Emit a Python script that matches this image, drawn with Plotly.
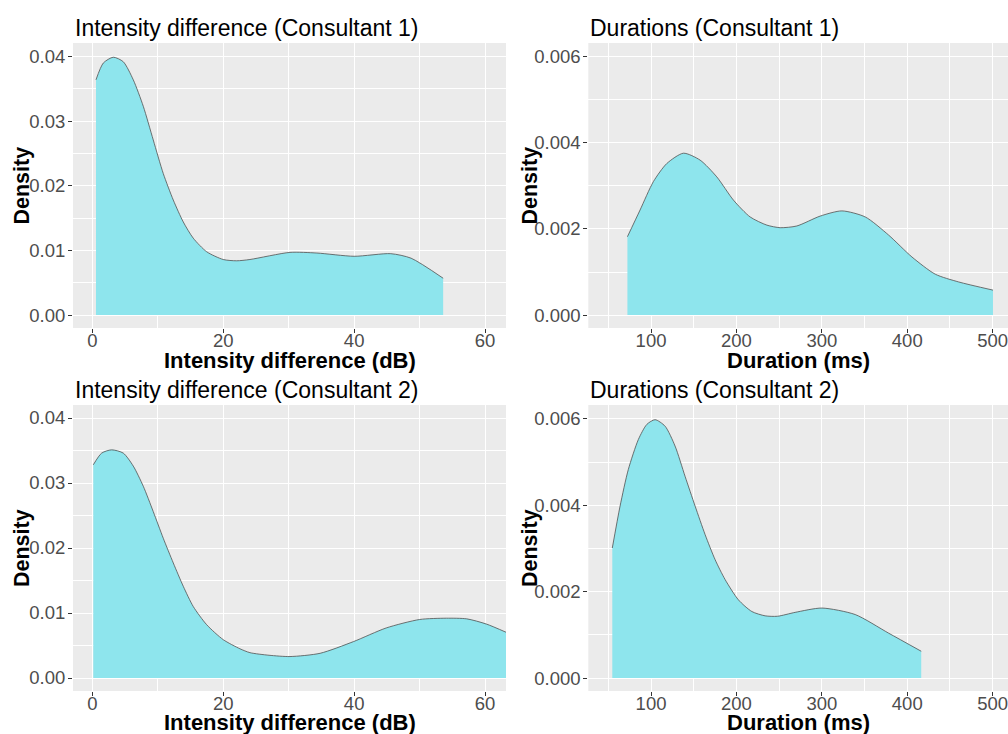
import plotly.graph_objects as go

# ---- data ----
int1_x = [0.56, 1.68, 3.2, 4.73, 6.26, 7.79, 9.31, 10.84, 12.37, 13.9, 15.42, 17.47, 20.0, 22.05, 24.08,
          30.2, 34.3, 40.0, 45.6, 48.7, 53.6]
int1_y = [0.0364, 0.0390, 0.0399, 0.0392, 0.0364, 0.0323, 0.0271, 0.0219, 0.0178, 0.0144, 0.0119, 0.0098, 0.0086, 0.0084, 0.0086,
          0.0097, 0.0096, 0.0091, 0.0095, 0.0088, 0.0057]

int2_x = [0.15, 1.43, 2.96, 4.73, 6.26, 7.79, 9.31, 10.84, 12.37, 13.9, 15.42, 17.47, 20.0, 22.55, 24.08,
          27.0, 30.2, 34.8, 39.9, 44.9, 50.0, 54.1, 57.2, 60.2, 63.3]
int2_y = [0.0328, 0.0346, 0.0351, 0.0346, 0.0326, 0.0295, 0.0256, 0.0215, 0.0177, 0.0141, 0.0110, 0.0082, 0.0059, 0.0045, 0.0039,
          0.0035, 0.0033, 0.0038, 0.0056, 0.0077, 0.0090, 0.0092, 0.0091, 0.0083, 0.0070]

dur1_x = [72.3, 87.1, 102.7, 118.4, 137.9, 157.4, 177.0, 196.5, 216.0, 235.6, 251.2, 270.7, 298.1,
          323.5, 350.8, 378.1, 405.5, 432.8, 460.2, 500.4]
dur1_y = [0.00182, 0.00244, 0.00310, 0.00352, 0.00376, 0.00360, 0.00321, 0.00267, 0.00228, 0.00209, 0.00203, 0.00207, 0.00230,
          0.00242, 0.00228, 0.00186, 0.00135, 0.00095, 0.00077, 0.00058]

dur2_x = [54.6, 63.7, 73.4, 85.1, 95.0, 104.7, 116.4, 128.1, 139.8, 151.6, 163.3, 175.0, 186.7, 202.3, 218.0, 233.6,
          248.0, 268.7, 300.0, 339.0, 378.1, 416.4]
dur2_y = [0.00301, 0.00398, 0.00483, 0.00552, 0.00587, 0.00598, 0.00583, 0.00537, 0.00467, 0.00398, 0.00332, 0.00274, 0.00228, 0.00181, 0.00154, 0.00144,
          0.00143, 0.00152, 0.00162, 0.00147, 0.00104, 0.00062]

int_xticks = [0, 20, 40, 60]
int_yticks = [0.0, 0.01, 0.02, 0.03, 0.04]
int_ylabels = ["0.00", "0.01", "0.02", "0.03", "0.04"]
dur_xticks = [100, 200, 300, 400, 500]
dur_yticks = [0.0, 0.002, 0.004, 0.006]
dur_ylabels = ["0.000", "0.002", "0.004", "0.006"]

titles = ["Intensity difference (Consultant 1)", "Durations (Consultant 1)",
          "Intensity difference (Consultant 2)", "Durations (Consultant 2)"]
xtitles = ["Intensity difference (dB)", "Duration (ms)", "Intensity difference (dB)", "Duration (ms)"]
ytitle = "Density"

# ---- layout helpers (pixel geometry) ----
W, H = 1008, 734
FILL = "rgb(142,229,237)"
LINE = "#505050"
FONT = "Liberation Sans, Arial, sans-serif"

def px_x(a, b):
    return [a / W, min(b / W, 1.0)]

def px_y(top, bottom):
    return [1 - bottom / H, 1 - top / H]

panels = [
    dict(x=int1_x, y=int1_y, xd=px_x(73, 506), yd=px_y(43, 328), xr=[-2.95, 63.2], yr=[-0.002, 0.0421],
         xt=int_xticks, xm=10, yt=int_yticks, yl=int_ylabels, ym=0.005, m0x=-10, m0y=-0.005),
    dict(x=dur1_x, y=dur1_y, xd=px_x(588.3, 1008), yd=px_y(43, 328), xr=[26.5, 518], yr=[-0.0003, 0.00632],
         xt=dur_xticks, xm=100, yt=dur_yticks, yl=dur_ylabels, ym=0.002, m0x=50, m0y=0.001),
    dict(x=int2_x, y=int2_y, xd=px_x(73, 506), yd=px_y(405, 691), xr=[-2.95, 63.2], yr=[-0.002, 0.0420],
         xt=int_xticks, xm=10, yt=int_yticks, yl=int_ylabels, ym=0.005, m0x=-10, m0y=-0.005),
    dict(x=dur2_x, y=dur2_y, xd=px_x(588.3, 1008), yd=px_y(405, 691), xr=[26.5, 518], yr=[-0.0003, 0.00632],
         xt=dur_xticks, xm=100, yt=dur_yticks, yl=dur_ylabels, ym=0.002, m0x=50, m0y=0.001),
]

fig = go.Figure()
layout = {}
annotations = []

title_y = [28, 28, 390, 390]
xtitle_y = [360.5, 360.5, 722, 722]
ytitle_x = [22, 530, 22, 530]

for i, p in enumerate(panels):
    n = "" if i == 0 else str(i + 1)
    fig.add_trace(go.Scatter(
        x=p["x"], y=p["y"], mode="lines", line=dict(color=LINE, width=0.8, shape="spline", smoothing=0.7),
        fill="tozeroy", fillcolor=FILL, xaxis="x" + n, yaxis="y" + n, showlegend=False, hoverinfo="skip"))
    layout["xaxis" + n] = dict(
        domain=p["xd"], range=p["xr"], anchor="y" + n, tickmode="array", tickvals=p["xt"],
        showgrid=True, gridcolor="white", gridwidth=1.2, zeroline=False, showline=False,
        ticks="outside", ticklen=4, tickcolor="#333333", tickwidth=1, automargin=False,
        ticklabelstandoff=-8, ticklabeloverflow="allow",
        tickfont=dict(family=FONT, size=18.5, color="#4D4D4D"),
        minor=dict(tick0=p["m0x"], dtick=p["xm"], showgrid=True, gridcolor="white", gridwidth=0.6, ticks=""),
    )
    layout["yaxis" + n] = dict(
        domain=p["yd"], range=p["yr"], anchor="x" + n, tickmode="array", tickvals=p["yt"], ticktext=p["yl"],
        showgrid=True, gridcolor="white", gridwidth=1.2, zeroline=False, showline=False,
        ticks="outside", ticklen=4, tickcolor="#333333", tickwidth=1, automargin=False,
        ticklabeloverflow="allow", ticklabelstandoff=-1,
        tickfont=dict(family=FONT, size=18.5, color="#4D4D4D"),
        minor=dict(tick0=p["m0y"], dtick=p["ym"], showgrid=True, gridcolor="white", gridwidth=0.6, ticks=""),
    )
    # panel title
    annotations.append(dict(text=titles[i], xref="paper", yref="paper", x=p["xd"][0], y=1 - title_y[i] / H,
                            xanchor="left", yanchor="middle", showarrow=False,
                            font=dict(family=FONT, size=23, color="black")))
    # x title
    annotations.append(dict(text="<b>" + xtitles[i] + "</b>", xref="paper", yref="paper",
                            x=(p["xd"][0] + p["xd"][1]) / 2, y=1 - xtitle_y[i] / H,
                            xanchor="center", yanchor="middle", showarrow=False,
                            font=dict(family=FONT, size=22, color="black")))
    # y title
    annotations.append(dict(text="<b>" + ytitle + "</b>", xref="paper", yref="paper",
                            x=ytitle_x[i] / W, y=(p["yd"][0] + p["yd"][1]) / 2, textangle=-90,
                            xanchor="center", yanchor="middle", showarrow=False,
                            font=dict(family=FONT, size=21.5, color="black")))

fig.update_layout(
    width=W, height=H, margin=dict(l=0, r=0, t=0, b=0, autoexpand=False),
    paper_bgcolor="white", plot_bgcolor="#EBEBEB",
    annotations=annotations, **layout,
)

fig.write_html("out.html", config={"displayModeBar": False},
               post_script="document.body.style.margin='0';document.body.style.overflow='hidden';")
